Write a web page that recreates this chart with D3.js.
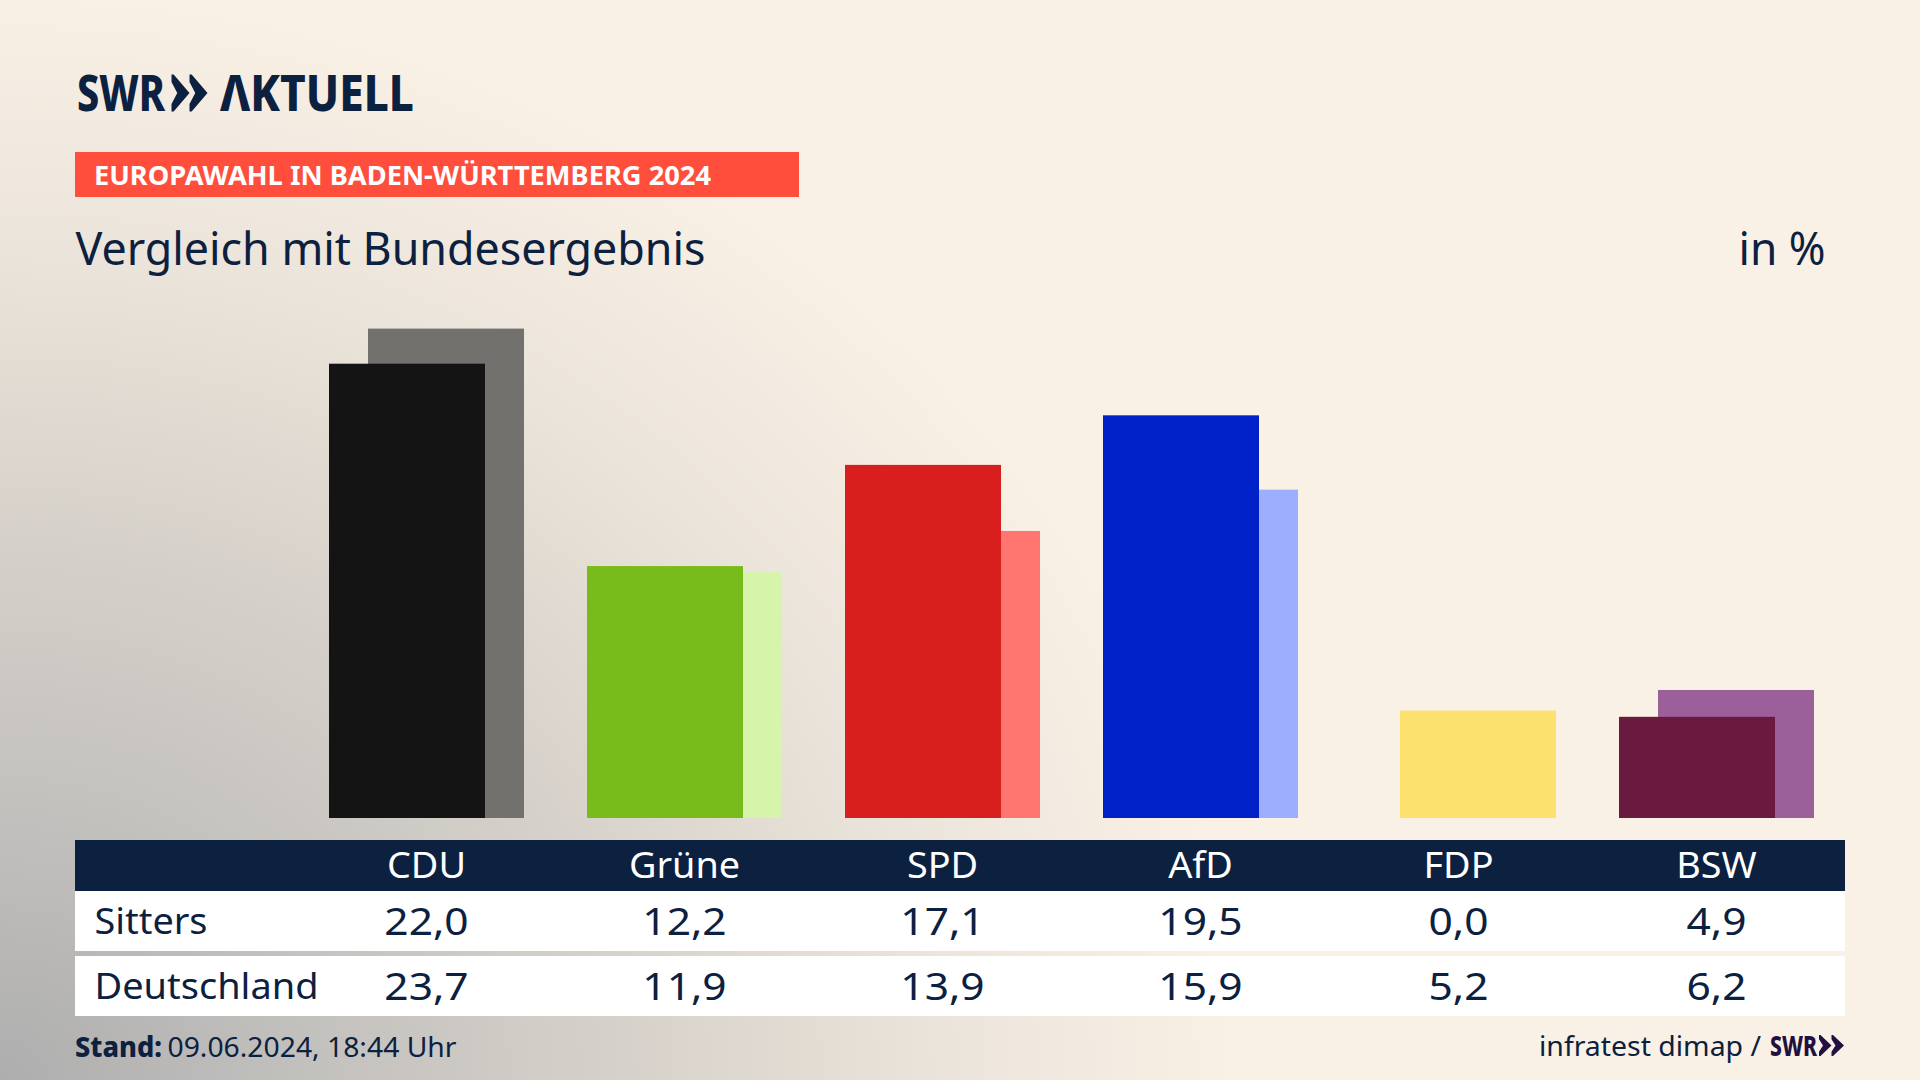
<!DOCTYPE html>
<html lang="de">
<head>
<meta charset="utf-8">
<title>Europawahl in Baden-Württemberg 2024</title>
<script src="https://cdn.jsdelivr.net/npm/d3@7"></script>
<style>
	html, body { margin: 0; padding: 0; background: #faf1e6; }
	svg { display: block; }
	text { font-family: "Noto Sans", sans-serif; fill: #0c2040; }
</style>
</head>
<body>
<svg class="chart"></svg>
<script>
/* Vergleich Sitters / Deutschland als überlagerte Balken mit Tabelle */
var data = [
	{name: "CDU",   sitters: 22.0, deutschland: 23.7, main: "#141414", light: "#73716e"},
	{name: "Grüne", sitters: 12.2, deutschland: 11.9, main: "#78bc1b", light: "#d7f5aa"},
	{name: "SPD",   sitters: 17.1, deutschland: 13.9, main: "#d81f1e", light: "#ff7570"},
	{name: "AfD",   sitters: 19.5, deutschland: 15.9, main: "#0020c8", light: "#9daeff"},
	{name: "FDP",   sitters: 0.0,  deutschland: 5.2,  main: "#d8c25a", light: "#fde16f"},
	{name: "BSW",   sitters: 4.9,  deutschland: 6.2,  main: "#6b1a3f", light: "#9b609a"}
];

var width = 1920, height = 1080,
	navy = "#0c2040",
	barWidth = 156,
	baseline = 818;

var chart = d3.select(".chart")
	.attr("width", width)
	.attr("height", height)
	.attr("viewBox", "0 0 " + width + " " + height);

// Background: cream with grey coming in from bottom left
var grad = chart.append("defs").append("radialGradient")
	.attr("id", "bg")
	.attr("gradientUnits", "userSpaceOnUse")
	.attr("cx", 0).attr("cy", 1080).attr("r", 1250)
	.attr("gradientTransform", "translate(0,1080) scale(1,0.88) translate(0,-1080)");
[[0, "#aeaeae"], [0.25, "#c3c1be"], [0.5, "#d6d1ca"], [0.75, "#ebe4da"], [1, "#faf1e6"]].forEach(function(s) {
	grad.append("stop").attr("offset", s[0]).attr("stop-color", s[1]);
});
chart.append("rect").attr("width", width).attr("height", height).attr("fill", "url(#bg)");

var x = d3.scaleBand()
	.domain(data.map(function(d) { return d.name; }))
	.range([298, 1846]);

var y = d3.scaleLinear()
	.domain([0, 23.7])
	.range([baseline, baseline - 23.7 * 20.65]);

var offset = d3.scaleOrdinal()
	.domain(["sitters", "deutschland"])
	.range([-98, -59]);

var fmt = d3.formatLocale({decimal: ",", thousands: ".", grouping: [3], currency: ["", " €"]}).format(".1f");

function center(d) { return x(d.name) + x.bandwidth() / 2; }

// Text helper, squeezes Noto Sans to the measured width
function label(str, xPos, yPos, size, w, opts) {
	opts = opts || {};
	var t = chart.append("text")
		.attr("x", xPos)
		.attr("y", yPos)
		.attr("font-size", size)
		.attr("font-weight", opts.weight || 400)
		.style("fill", opts.fill || navy)
		.text(str);
	if (w) t.attr("textLength", w).attr("lengthAdjust", "spacingAndGlyphs");
	return t;
}

// Widen centred text by a factor, height stays
function widen(sel, factor) {
	sel.each(function() {
		this.setAttribute("textLength", this.getComputedTextLength() * factor);
		this.setAttribute("lengthAdjust", "spacingAndGlyphs");
	});
}

// Two pointed arrows of the SWR logo
function chevrons(xPos, top, h, w, fill) {
	var one = w / 2;
	[0, one].forEach(function(dx) {
		var l = xPos + dx;
		chart.append("path")
			.attr("fill", fill)
			.attr("d", "M" + l + "," + top +
				"L" + (l + one * 0.12) + "," + top +
				"L" + (l + one) + "," + (top + h / 2) +
				"L" + (l + one * 0.12) + "," + (top + h) +
				"L" + l + "," + (top + h) +
				"L" + l + "," + (top + h * 0.8) +
				"L" + (l + one * 0.32) + "," + (top + h / 2) +
				"L" + l + "," + (top + h * 0.2) + "Z");
	});
}

// Logo
label("SWR", 77, 110.5, 49, 88, {weight: 800});
chevrons(171.5, 74.5, 37, 36, navy);
label("ΛKTUELL", 220, 110.5, 49, 194, {weight: 800});

// Header
chart.append("rect").attr("x", 75).attr("y", 152).attr("width", 724).attr("height", 45).attr("fill", "#ff4f3c");
label("EUROPAWAHL IN BADEN-WÜRTTEMBERG 2024", 94, 185, 27, 617, {weight: 700, fill: "#ffffff"});
label("Vergleich mit Bundesergebnis", 75.5, 265, 45, 630);
label("in %", 1738.5, 265, 45, 87);

// Light bars (Deutschland) behind, full-colour bars (Sitters) in front
chart.selectAll(".land")
	.data(data)
  .enter().append("rect")
	.attr("class", "land")
	.attr("x", function(d) { return center(d) + offset("deutschland"); })
	.attr("y", function(d) { return y(d.deutschland); })
	.attr("width", barWidth)
	.attr("height", function(d) { return y(0) - y(d.deutschland); })
	.attr("fill", function(d) { return d.light; });

chart.selectAll(".sitters")
	.data(data.filter(function(d) { return d.sitters > 0; }))
  .enter().append("rect")
	.attr("class", "sitters")
	.attr("x", function(d) { return center(d) + offset("sitters"); })
	.attr("y", function(d) { return y(d.sitters); })
	.attr("width", barWidth)
	.attr("height", function(d) { return y(0) - y(d.sitters); })
	.attr("fill", function(d) { return d.main; });

// Table
chart.append("rect").attr("x", 75).attr("y", 840).attr("width", 1770).attr("height", 51).attr("fill", navy);
chart.append("rect").attr("x", 75).attr("y", 891).attr("width", 1770).attr("height", 60).attr("fill", "#ffffff");
chart.append("rect").attr("x", 75).attr("y", 956).attr("width", 1770).attr("height", 60).attr("fill", "#ffffff");

// Party names through the band axis
var xAxis = d3.axisBottom().scale(x).tickSize(0).tickPadding(0);
var axisG = chart.append("g")
	.attr("class", "x axis")
	.attr("transform", "translate(-0.5,851)")
	.call(xAxis);
axisG.select(".domain").remove();
axisG.selectAll("text")
	.attr("font-size", 36)
	.attr("font-family", '"Noto Sans", sans-serif')
	.attr("dy", null)
	.attr("y", 27)
	.style("fill", "#ffffff")
	.call(widen, 1.05);

label("Sitters", 94.5, 934, 36, 113);
label("Deutschland", 94.5, 999, 36, 224);

[["sitters", 935], ["deutschland", 1000]].forEach(function(row) {
	chart.selectAll(".val-" + row[0])
		.data(data)
	  .enter().append("text")
		.attr("class", "val-" + row[0])
		.attr("x", function(d) { return center(d) - 0.5; })
		.attr("y", row[1])
		.attr("text-anchor", "middle")
		.attr("font-size", 39)
		.text(function(d) { return fmt(d[row[0]]); })
		.call(widen, 1.09);
});

// Footer
label("Stand:", 75, 1057, 28, 87, {weight: 800});
label("09.06.2024, 18:44 Uhr", 167.5, 1057, 28, 289);
label("infratest dimap /", 1539, 1056, 28, 222);
label("SWR", 1770, 1056, 28, 47, {weight: 800, fill: "#22103f"});
chevrons(1819, 1035, 21, 25, "#22103f");
</script>
</body>
</html>
